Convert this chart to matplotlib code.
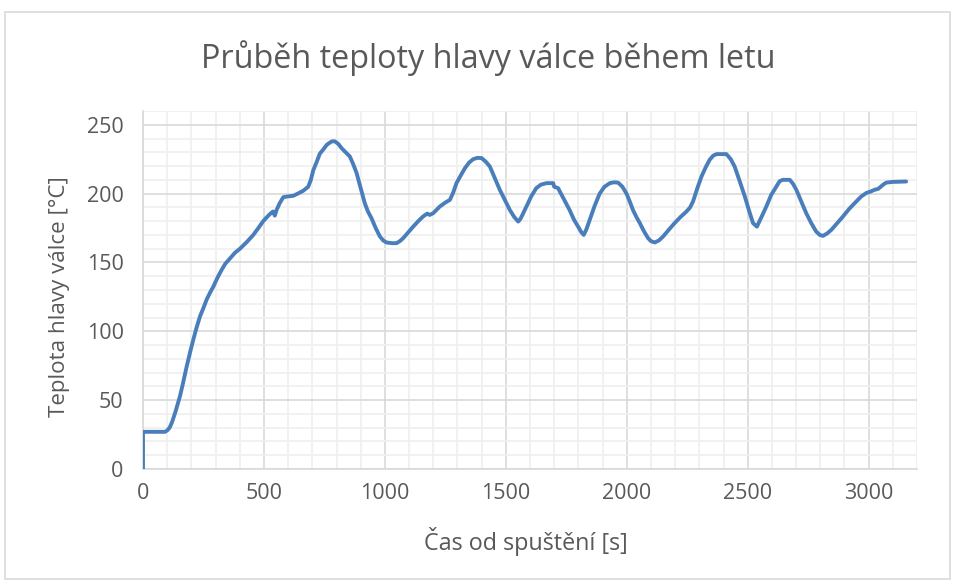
import matplotlib
matplotlib.use("Agg")
import matplotlib.pyplot as plt
from matplotlib.patches import Rectangle
from matplotlib.ticker import MultipleLocator

# ---- data ----
time_s = [0, 0, 30, 60, 91, 100, 110, 120, 135, 153, 165, 180, 195, 208, 222,
          236, 250, 263, 277, 291, 308, 325, 340, 360, 380, 401, 430, 456, 477,
          497, 518, 530, 538, 545, 552, 565, 580, 600, 621, 640, 662, 683, 694,
          704, 718, 731, 745, 760, 780, 793, 808, 821, 838, 855, 870, 883, 900,
          917, 930, 945, 962, 979, 993, 1007, 1030, 1048, 1062, 1076, 1097,
          1117, 1138, 1158, 1175, 1185, 1200, 1227, 1250, 1269, 1283, 1296,
          1313, 1331, 1348, 1365, 1383, 1400, 1418, 1434, 1455, 1475, 1497,
          1517, 1535, 1551, 1560, 1570, 1585, 1605, 1626, 1645, 1668, 1696,
          1700, 1716, 1740, 1764, 1782, 1799, 1812, 1822, 1833, 1847, 1867,
          1888, 1908, 1930, 1947, 1964, 1982, 1999, 2013, 2026, 2040, 2054,
          2070, 2088, 2100, 2116, 2133, 2150, 2175, 2198, 2222, 2247, 2262,
          2274, 2292, 2309, 2326, 2343, 2357, 2371, 2412, 2430, 2446, 2467,
          2488, 2505, 2522, 2538, 2557, 2577, 2597, 2618, 2632, 2645, 2674,
          2688, 2701, 2722, 2742, 2763, 2783, 2798, 2811, 2828, 2846, 2870,
          2894, 2920, 2949, 2970, 2990, 3008, 3025, 3040, 3050, 3060, 3073,
          3100, 3155]
temp_c = [0, 27, 27, 27, 27, 28, 30, 34, 42, 53, 62, 74, 85, 94, 103,
          111, 117, 123, 128, 132.5, 139, 144.6, 149, 153, 157, 160, 165, 170, 175,
          180, 184, 186, 187, 184, 188, 193, 197.4, 198, 198.4, 200, 202, 205, 210,
          217, 223, 229, 232, 235.5, 237.9, 238, 236, 233, 230, 227, 221, 215, 204,
          193, 187, 182, 175, 169, 166, 164.5, 164, 164, 165.5, 167.7, 172,
          176, 180, 183.4, 185.5, 184.5, 185.8, 190.6, 193.5, 195.5, 201, 207.6,
          213, 218.5, 222.5, 225, 226, 225.8, 223, 219.7, 211, 202.8, 195,
          188, 183, 179.7, 181.5, 185, 190.6, 198, 204, 206.5, 207.6, 207.6,
          205, 204, 196, 188, 181, 176, 172, 170, 174, 181, 191,
          200, 205, 207.6, 208.2, 208, 205, 200, 194, 188, 183, 178.6,
          173, 167.7, 165.5, 164.5, 166, 168.8, 174, 178.6, 183, 187, 190,
          194.3, 204, 212.4, 219, 224.6, 227.5, 228.7, 228.7, 225, 219.7, 209,
          198, 188, 178.6, 176, 183, 190.6, 199, 205, 209, 210, 210,
          207, 202.8, 194, 185.8, 178.5, 172.5, 170, 169.3, 171, 173.7, 178.5,
          183.4, 189, 194.3, 198, 200.4, 201.5, 202.8, 203.5, 205, 206.5, 208,
          208.5, 208.8]

title = "Průběh teploty hlavy válce během letu"
xlabel = "Čas od spuštění [s]"
ylabel = "Teplota hlavy válce [°C]"

W, H = 957, 580
fig = plt.figure(figsize=(W / 100, H / 100), dpi=100)
fig.patch.set_facecolor("white")

TXT = "#595959"
FONT = ["Open Sans", "DejaVu Sans"]

# chart border
fig.patches.append(Rectangle((5 / W, 0.002), (950 - 5) / W, (H - 12) / H - 0.002,
                             transform=fig.transFigure, fill=False,
                             edgecolor="#D9D9D9", linewidth=1.2))

left, right, top, bottom = 143, 917, 111, 469
ax = fig.add_axes([left / W, 1 - bottom / H, (right - left) / W, (bottom - top) / H])

ax.plot(time_s, temp_c, color="#4A7EBB", linewidth=2.8, solid_joinstyle="round",
        solid_capstyle="round", zorder=3)

ax.set_xlim(0, 3200)
ax.set_ylim(0, 260)
ax.xaxis.set_minor_locator(MultipleLocator(100))
ax.yaxis.set_minor_locator(MultipleLocator(10))
ax.set_xticks([0, 500, 1000, 1500, 2000, 2500, 3000])
ax.set_yticks([0, 50, 100, 150, 200, 250])

ax.grid(which="major", color="#D9D9D9", linewidth=1.2, zorder=1)
ax.grid(which="minor", color="#EFEFEF", linewidth=1.2, zorder=0)
ax.set_axisbelow(True)

for s in ["top", "right"]:
    ax.spines[s].set_visible(False)
for s in ["left", "bottom"]:
    ax.spines[s].set_color("#D9D9D9")
    ax.spines[s].set_linewidth(1.2)

ax.tick_params(which="both", length=0)
ax.tick_params(axis="x", pad=10, labelsize=15.5, labelcolor=TXT)
ax.tick_params(axis="y", pad=14, labelsize=15.5, labelcolor=TXT)
for lab in ax.get_xticklabels() + ax.get_yticklabels():
    lab.set_family(FONT)

t = fig.text(0.5 * (200 + 777) / W, 1 - 58 / H, title, ha="center", va="center",
             fontsize=26, color=TXT, family=FONT)
xl = fig.text((423 + 628) / 2 / W, 1 - 541 / H, xlabel, ha="center", va="center",
              fontsize=16, color=TXT, family=FONT)
yl = fig.text(60 / W, 1 - 297 / H, ylabel, ha="center", va="center",
              rotation=90, fontsize=16, color=TXT, family=FONT)

# fit text sizes to the measured widths in the reference
fig.canvas.draw()
r = fig.canvas.get_renderer()
for obj, target, horiz in [(t, 577, True), (xl, 205, True), (yl, 241, False)]:
    bb = obj.get_window_extent(r)
    cur = bb.width if horiz else bb.height
    obj.set_fontsize(obj.get_fontsize() * target / cur)

fig.savefig("out.png", dpi=100, facecolor="white")
